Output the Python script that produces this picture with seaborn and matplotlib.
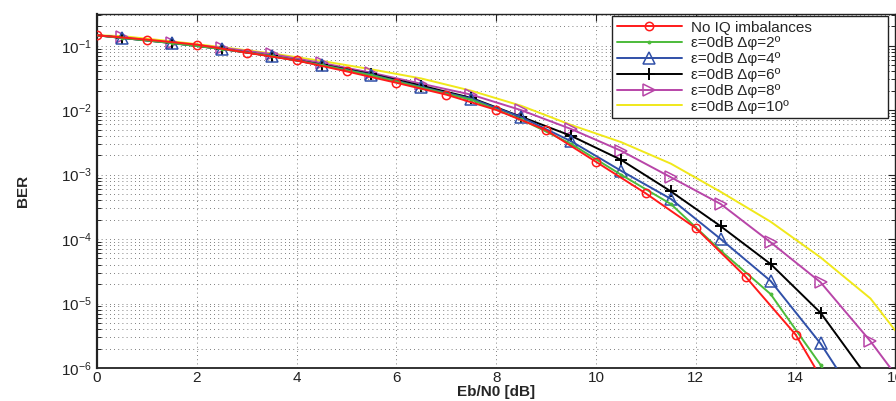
import numpy as np
import pandas as pd
import matplotlib
matplotlib.use("Agg")
import matplotlib.pyplot as plt
import seaborn as sns
from matplotlib.ticker import LogLocator, FixedLocator

# ---------------- data ----------------
x_ideal = [0, 1, 2, 3, 4, 5, 6, 7, 8, 9, 10, 11, 12, 13, 14, 15]
ber_ideal = [0.145, 0.124, 0.104, 0.078, 0.059, 0.040, 0.0266, 0.0174, 0.0101,
             0.0049, 0.00158, 5.1e-4, 1.48e-4, 2.6e-5, 3.3e-6, 1.6e-7]

x_iq = [0, 0.5, 1.5, 2.5, 3.5, 4.5, 5.5, 6.5, 7.5, 8.5, 9.5, 10.5, 11.5, 12.5,
        13.5, 14.5, 15.5, 16]
ber_2deg = [0.145, 0.132, 0.110, 0.089, 0.069, 0.050, 0.0347, 0.0224, 0.0145,
            0.0072, 0.0030, 1.0e-3, 3.5e-4, 6.6e-5, 1.4e-5, 1.12e-6, 6.3e-8, 1.6e-8]
ber_4deg = [0.145, 0.132, 0.110, 0.089, 0.069, 0.050, 0.0355, 0.0229, 0.0151,
            0.0078, 0.0033, 1.15e-3, 4.2e-4, 1.0e-4, 2.24e-5, 2.4e-6, 1.55e-7, 4e-8]
ber_6deg = [0.145, 0.132, 0.110, 0.089, 0.069, 0.051, 0.0363, 0.024, 0.0155,
            0.0079, 0.0040, 1.7e-3, 5.5e-4, 1.58e-4, 4.1e-5, 7.2e-6, 6.2e-7, 1.6e-7]
ber_8deg = [0.145, 0.135, 0.112, 0.093, 0.074, 0.054, 0.038, 0.0257, 0.0174,
            0.0100, 0.0051, 2.35e-3, 9.1e-4, 3.5e-4, 8.9e-5, 2.14e-5, 2.6e-6, 7.9e-7]
ber_10deg = [0.145, 0.141, 0.117, 0.095, 0.076, 0.058, 0.043, 0.031, 0.020,
             0.0117, 0.0059, 3.2e-3, 1.48e-3, 5.4e-4, 1.86e-4, 5.2e-5, 1.2e-5, 3.8e-6]

labels = ["No IQ imbalances",
          "ε=0dB Δφ=2º",
          "ε=0dB Δφ=4º",
          "ε=0dB Δφ=6º",
          "ε=0dB Δφ=8º",
          "ε=0dB Δφ=10º"]
x_ticks = [0, 2, 4, 6, 8, 10, 12, 14, 16]

# ---------------- style ----------------
sns.set_style("white")
plt.rcParams['font.family'] = ['Liberation Sans', 'DejaVu Sans']
plt.rcParams['mathtext.fontset'] = 'custom'
plt.rcParams['mathtext.rm'] = 'Liberation Sans'

fig = plt.figure(figsize=(8.96, 4.01), dpi=100)
ax = fig.add_axes([0.1083, 0.0823, 0.891, 0.8827])

styles = [
    dict(color="#ff1a1a", marker="o", ms=6, mfc="none", mew=1.1),
    dict(color="#4cbb3a", marker=".", ms=4, mfc="#4cbb3a", mew=0.8),
    dict(color="#3050a8", marker="^", ms=8, mfc="none", mew=1.1),
    dict(color="#000000", marker="+", ms=8, mfc="none", mew=1.4),
    dict(color="#b845a8", marker=">", ms=8, mfc="none", mew=1.1),
    dict(color="#f0e81a", marker=None, ms=0, mfc="none", mew=0),
]
series = [(x_ideal, ber_ideal), (x_iq, ber_2deg), (x_iq, ber_4deg),
          (x_iq, ber_6deg), (x_iq, ber_8deg), (x_iq, ber_10deg)]

for i, ((xs, ys), lab, st) in enumerate(zip(series, labels, styles)):
    df = pd.DataFrame({"x": xs, "y": ys})
    kw = dict(color=st["color"], linewidth=1.4, label=lab, errorbar=None,
              sort=False, ax=ax, zorder=3 + (5 - i) * 0.1)
    if st["marker"] is not None:
        kw.update(marker=st["marker"], markersize=st["ms"],
                  markerfacecolor=st["mfc"], markeredgecolor=st["color"],
                  markeredgewidth=st["mew"])
        if i == 0:
            kw.update(markevery=list(range(0, 15)))
        else:
            kw.update(markevery=list(range(1, 17)))
    sns.lineplot(data=df, x="x", y="y", **kw)

ax.set_yscale("log")
ax.set_xlim(0, 16)
ax.set_ylim(1e-6, 0.31)
ax.xaxis.set_major_locator(FixedLocator(x_ticks))
ax.yaxis.set_major_locator(LogLocator(base=10, numticks=20))
ax.yaxis.set_minor_locator(LogLocator(base=10, subs=np.arange(2, 10), numticks=20))

ax.grid(True, which="major", axis="both", linestyle=(0, (1, 4)), color="#555555", linewidth=0.6)
ax.grid(True, which="minor", axis="y", linestyle=(0, (1, 4)), color="#555555", linewidth=0.6)

for s in ax.spines.values():
    s.set_visible(True)
    s.set_color("#222222")
    s.set_linewidth(1.0)
ax.spines["left"].set_linewidth(1.6)
ax.spines["bottom"].set_linewidth(1.3)

ax.tick_params(axis="both", which="major", direction="in", length=5, width=0.8,
               top=True, right=True, labelsize=11, colors="#222222", pad=2)
ax.tick_params(axis="y", which="major", pad=4)
ax.tick_params(axis="y", which="minor", direction="in", length=3, width=0.7,
               left=True, right=True)

ax.set_xlabel("Eb/N0 [dB]", fontsize=11, fontweight="bold", labelpad=0)
ax.set_ylabel("BER", fontsize=11, fontweight="bold", labelpad=22)

leg = ax.legend(loc="upper left", bbox_to_anchor=(612 / 896, 1 - 20 / 401, 276 / 896, 0.01),
                bbox_transform=fig.transFigure, mode="expand",
                fontsize=11, frameon=True, fancybox=False, framealpha=1,
                edgecolor="#222222", handlelength=4.3, handletextpad=0.6,
                borderpad=0.3, labelspacing=0.12, borderaxespad=0)
leg.get_frame().set_linewidth(1.0)
leg.set_zorder(10)

fig.savefig("out.png", dpi=100)
